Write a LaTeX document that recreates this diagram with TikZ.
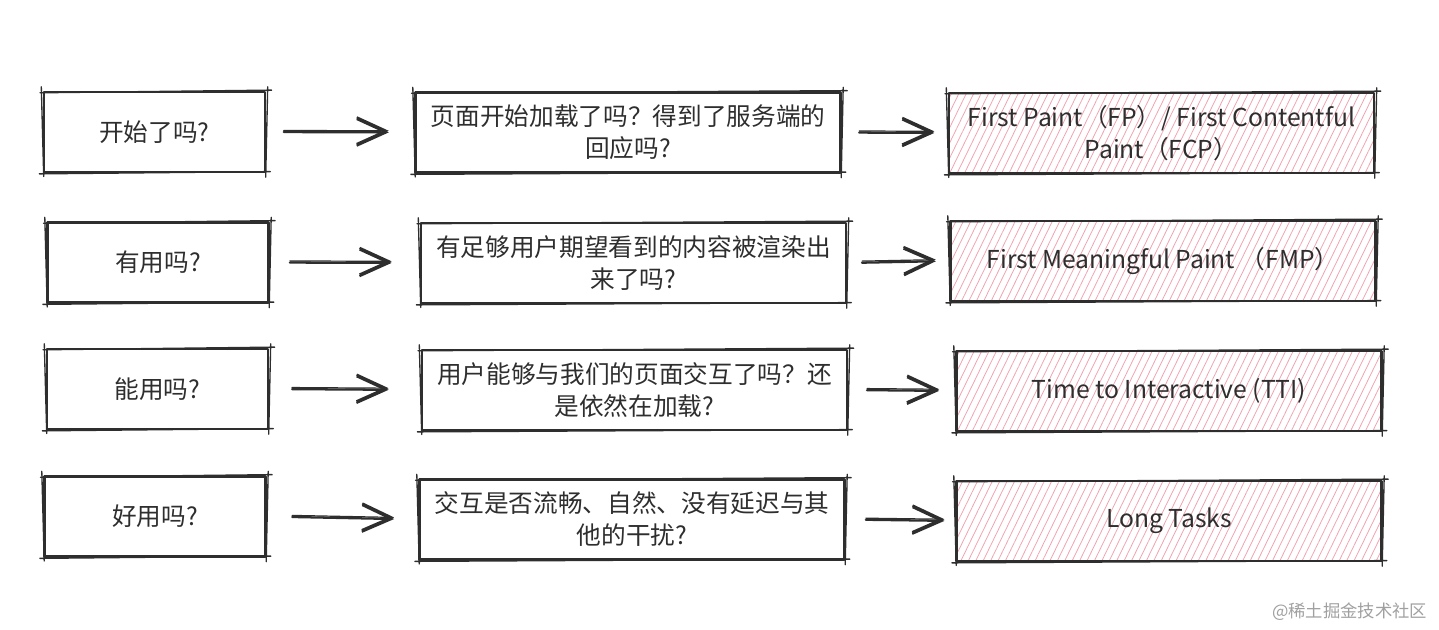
\documentclass[tikz,border=0pt]{standalone}
\usepackage{fontspec}
\setmainfont{Noto Sans CJK SC}
\usetikzlibrary{arrows.meta,patterns.meta}
\definecolor{ink}{HTML}{2E2E2E}
\definecolor{hatch}{HTML}{F0A3B1}
\definecolor{mark}{HTML}{A0A0A0}

% a second, slightly crooked outline round a box, as if drawn by hand
\newcommand{\roughbox}[1]{%
  \draw[sketch] ([shift={(-2pt,-1.5pt)}]#1.north west) -- ([shift={(4pt,0.5pt)}]#1.north east)
    ([shift={(1pt,3pt)}]#1.north east) -- ([shift={(-0.5pt,-3pt)}]#1.south east)
    ([shift={(3pt,1.2pt)}]#1.south east) -- ([shift={(-2.5pt,-0.5pt)}]#1.south west)
    ([shift={(0.8pt,-2.5pt)}]#1.south west) -- ([shift={(-1pt,3pt)}]#1.north west);}

\begin{document}
\begin{tikzpicture}[
  x=0.75pt, y=-0.75pt,
  line join=round, line cap=round,
  font=\fontsize{18.5}{24}\selectfont,
  box/.style={draw=ink, line width=1.8pt, text=ink, align=center, inner sep=0pt,
    minimum height=60pt},
  askbox/.style={box, minimum width=166pt},
  whybox/.style={box, minimum width=319pt},
  metricbox/.style={box, minimum width=319pt,
    preaction={pattern={Lines[angle=64,distance=5pt,line width=0.6pt]}, pattern color=hatch}},
  sketch/.style={draw=ink, line width=1pt},
  arr/.style={draw=ink, line width=1.7pt,
    -{Straight Barb[length=22pt,width=20pt,line width=1.7pt]},
    preaction={draw=ink, line width=0.9pt, transform canvas={yshift=1.2pt}}},
]
\useasboundingbox (0,0) rectangle (1439,630);

% ── left column: the questions ────────────────────────────────────────────
\node[askbox] (ask1) at (154.5,132) {开始了吗?};
\node[askbox] (ask2) at (158,262.5) {有用吗?};
\node[askbox] (ask3) at (157.5,389) {能用吗?};
\node[askbox] (ask4) at (155,516.5) {好用吗?};

% ── middle column: what is asked ──────────────────────────────────────────
\node[whybox] (why1) at (628,132.5) {页面开始加载了吗？得到了服务端的\\回应吗?};
\node[whybox] (why2) at (633.5,263) {有足够用户期望看到的内容被渲染出\\来了吗?};
\node[whybox] (why3) at (634.5,390) {用户能够与我们的页面交互了吗？还\\是依然在加载?};
\node[whybox] (why4) at (632,519.5) {交互是否流畅、自然、没有延迟与其\\他的干扰?};

% ── right column: the metrics, hatched ────────────────────────────────────
\node[metricbox] (met1) at (1161.5,133) {First Paint（FP）/ First Contentful\\Paint（FCP）};
\node[metricbox] (met2) at (1163,261) {First Meaningful Paint （FMP）};
\node[metricbox] (met3) at (1169,391) {Time to Interactive (TTI)};
\node[metricbox] (met4) at (1169,521) {Long Tasks};

\foreach \b in {ask1,ask2,ask3,ask4,why1,why2,why3,why4,met1,met2,met3,met4}
  \roughbox{\b};

% ── arrows ────────────────────────────────────────────────────────────────
\draw[arr, shorten <=13pt, shorten >=19pt] (ask1.east) -- (why1.west);
\draw[arr, shorten <=15pt, shorten >=21pt] (ask2.east) -- (why2.west);
\draw[arr, shorten <=17pt, shorten >=24pt] (ask3.east) -- (why3.west);
\draw[arr, shorten <=19pt, shorten >=18pt] (ask4.east) -- (why4.west);

\draw[arr, shorten <=13pt, shorten >=10pt] (why1.east) -- (met1.west);
\draw[arr, shorten <=11pt, shorten >=10pt] (why2.east) -- (met2.west);
\draw[arr, shorten <=14pt, shorten >=12pt] (why3.east) -- (met3.west);
\draw[arr, shorten <=15pt, shorten >=8pt] (why4.east) -- (met4.west);

% ── watermark ─────────────────────────────────────────────────────────────
\node[text=mark, font=\fontsize{13}{15}\selectfont, anchor=east] (wm) at (1432,612) {@稀土掘金技术社区};

\end{tikzpicture}
\end{document}
